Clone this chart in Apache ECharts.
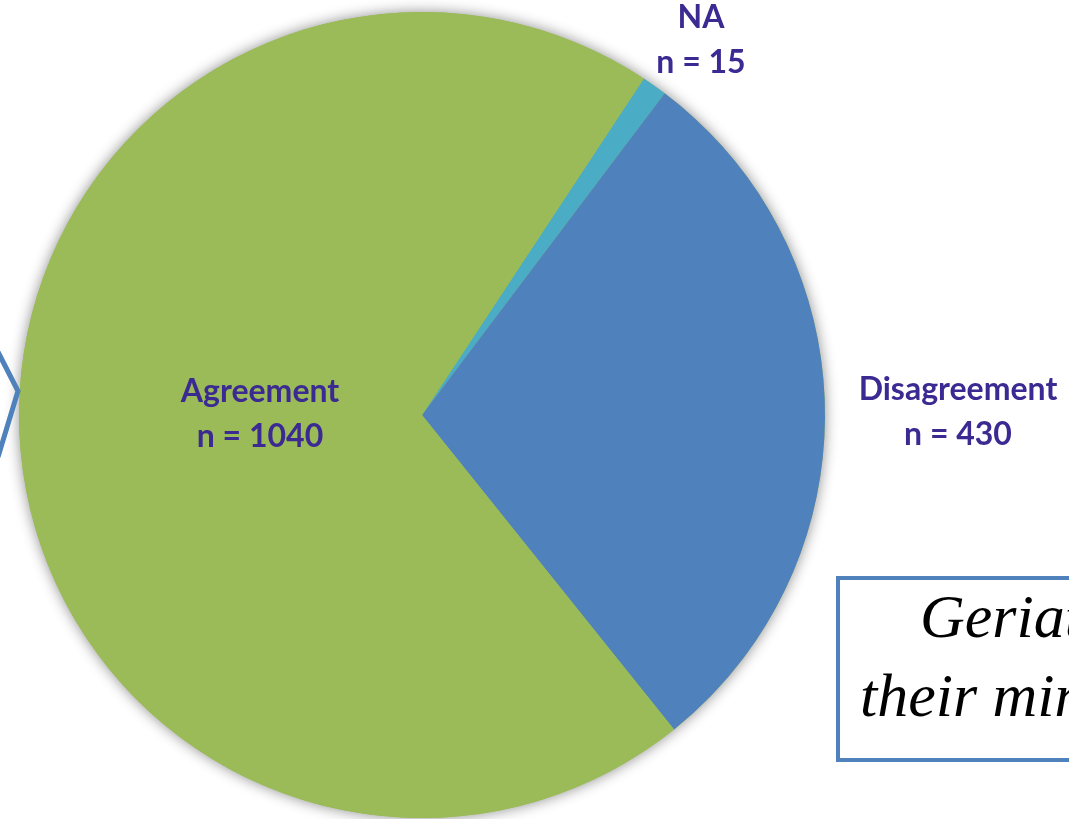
<!DOCTYPE html>
<html><head><meta charset="utf-8">
<script src="https://cdn.jsdelivr.net/npm/echarts@6/dist/echarts.min.js"></script>
<style>html,body{margin:0;padding:0;background:#fff}#c{width:1069px;height:819px}</style>
</head><body><div id="c"></div>
<script>
const categories = ['NA', 'Disagreement', 'Agreement'];
const counts = [15, 430, 1040];
const colors = ['#4BACC6', '#4F81BD', '#9BBB59'];
const boxLines = ['Geriatric', 'their minds'];

const total = counts.reduce((a, b) => a + b, 0);
const labelPos = { 'NA': [701, 40], 'Disagreement': [958, 412], 'Agreement': [260, 414] };

const chart = echarts.init(document.getElementById('c'), null, { renderer: 'canvas' });
chart.setOption({
  animation: false,
  series: [
    {
      type: 'pie', silent: true, z: 1,
      center: [422, 415], radius: 403,
      label: { show: false }, labelLine: { show: false },
      itemStyle: { color: '#9BBB59', shadowBlur: 14, shadowColor: 'rgba(0,0,0,0.45)', shadowOffsetX: 0, shadowOffsetY: 0 },
      data: [{ value: total, name: 'all' }]
    },
    {
      type: 'pie', z: 2,
      center: [422, 415], radius: 403,
      startAngle: 90 - 33.4, clockwise: true,
      avoidLabelOverlap: false,
      labelLine: { show: false },
      label: {
        show: true, position: 'inside',
        formatter: p => p.name + '\nn = ' + p.value,
        color: '#3B2A92', fontFamily: 'Lato', fontWeight: 'bold', fontSize: 32,
        lineHeight: 45, align: 'center', verticalAlign: 'middle'
      },
      labelLayout: function (params) {
        const name = categories[params.dataIndex];
        const p = labelPos[name];
        return { x: p[0], y: p[1], align: 'center', verticalAlign: 'middle' };
      },
      itemStyle: { borderWidth: 0 },
      data: categories.map((n, i) => ({ name: n, value: counts[i], itemStyle: { color: colors[i] } }))
    }
  ],
  graphic: [
    {
      type: 'polyline', z: 10,
      shape: { points: [[-2, 352], [18, 391], [-2, 457]] },
      style: { stroke: '#4F81BD', lineWidth: 5, fill: null }
    },
    {
      type: 'rect', z: 10,
      shape: { x: 838, y: 578, width: 300, height: 182 },
      style: { fill: '#fff', stroke: '#4F81BD', lineWidth: 4 }
    },
    {
      type: 'text', z: 11, left: 920, top: 590,
      style: { text: boxLines[0], font: 'italic 62px "Liberation Serif"', fill: '#000' }
    },
    {
      type: 'text', z: 11, left: 860, top: 669,
      style: { text: boxLines[1], font: 'italic 62px "Liberation Serif"', fill: '#000' }
    }
  ]
});
</script></body></html>
